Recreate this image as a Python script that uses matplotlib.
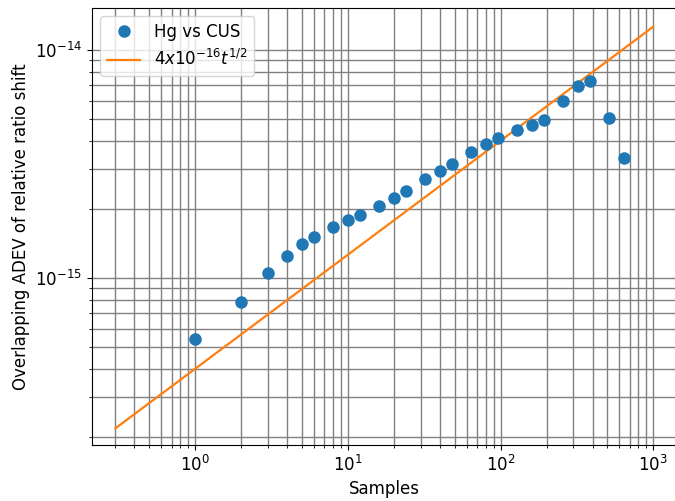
import matplotlib
matplotlib.use("Agg")
import matplotlib.pyplot as plt
import numpy as np

samples = [1, 2, 3, 4, 5, 6, 8, 10, 12, 16, 20, 24, 32, 40, 48, 64, 80, 96,
           128, 160, 192, 256, 320, 384, 512, 640]
adev = [5.4e-16, 7.85e-16, 1.05e-15, 1.25e-15, 1.41e-15, 1.51e-15, 1.67e-15,
        1.80e-15, 1.89e-15, 2.07e-15, 2.24e-15, 2.41e-15, 2.72e-15, 2.95e-15,
        3.16e-15, 3.57e-15, 3.87e-15, 4.11e-15, 4.46e-15, 4.69e-15, 4.93e-15,
        5.97e-15, 6.95e-15, 7.31e-15, 5.03e-15, 3.36e-15]
fit_coeff = 4e-16
fit_t = np.logspace(np.log10(0.3), np.log10(1000), 200)

fig = plt.figure(figsize=(6.75, 5.01), dpi=100)
ax = fig.add_axes([92/675, 56/501, (677-92)/675, (445-8)/501])

ax.loglog(samples, adev, 'o', color='#1f77b4', markersize=8, label='Hg vs CUS', zorder=3)
ax.loglog(fit_t, fit_coeff*np.sqrt(fit_t), '-', color='#ff7f0e', lw=1.6,
          label=r'$4x10^{-16}t^{1/2}$', zorder=2)

ax.set_xlim(0.211, 1430)
ax.set_ylim(1.852e-16, 1.528e-14)
ax.grid(True, which='both', color='gray', lw=1.0)
ax.set_axisbelow(True)
ax.tick_params(labelsize=12)
ax.set_xlabel('Samples', fontsize=12)
ax.set_ylabel('Overlapping ADEV of relative ratio shift', fontsize=12)
ax.legend(loc='upper left', fontsize=12)

fig.savefig('out.png', dpi=100)
